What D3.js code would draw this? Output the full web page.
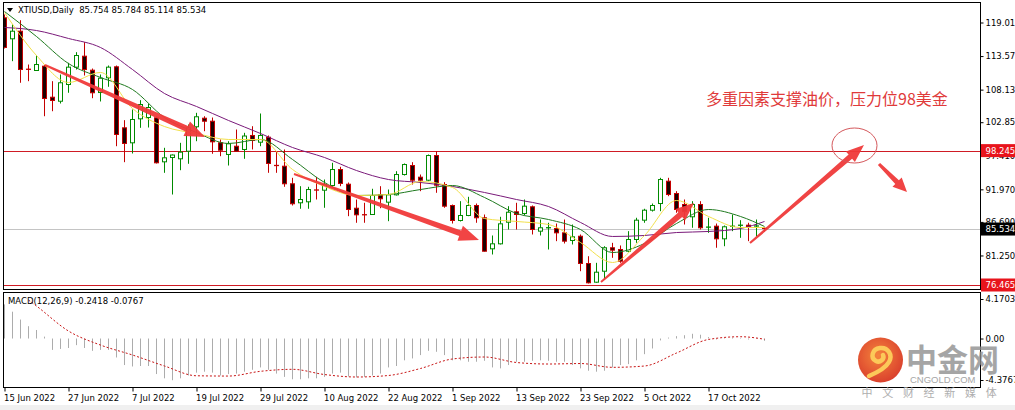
<!DOCTYPE html>
<html><head><meta charset="utf-8">
<script src="https://cdn.jsdelivr.net/npm/d3@7"></script>
<style>
body{margin:0;background:#fff;overflow:hidden}
svg{display:block}
</style>
</head><body>
<svg id="c" width="1015" height="410"></svg>
<script>
// ---------- DATA ----------
const symbol = "XTIUSD,Daily";
const lastOHLC = "85.754 85.784 85.114 85.534";
const opens = [119.77,116.37,117.60,111.55,111.23,111.93,106.90,106.25,108.96,111.77,113.55,111.28,107.66,110.05,111.83,101.94,99.51,103.40,103.61,103.56,96.43,97.13,96.92,98.15,102.11,103.50,103.01,99.51,97.62,98.96,98.43,100.70,99.61,100.42,95.95,95.72,92.87,89.79,89.95,91.94,91.83,92.59,95.18,92.80,88.91,87.89,87.89,91.08,89.89,91.08,94.37,95.83,93.94,93.45,97.45,92.75,89.35,86.92,87.73,89.35,87.36,82.33,83.14,86.64,88.33,88.05,89.14,85.19,85.70,85.62,84.92,83.68,84.37,79.95,76.92,78.70,82.50,82.22,81.94,83.84,86.97,88.59,89.67,93.29,91.29,89.51,87.52,89.51,85.79,86.00,83.95,85.95,86.11,86.16,85.95,85.754];
const highs = [120.31,118.69,119.38,112.20,113.66,112.15,109.50,110.58,112.48,114.20,115.82,111.55,110.58,112.04,112.04,103.18,104.91,106.42,105.88,103.82,98.70,97.62,99.51,102.48,104.37,103.82,103.61,100.05,99.77,101.67,101.13,102.20,104.26,100.70,98.15,98.43,93.84,92.48,92.38,94.00,93.56,96.27,95.62,93.08,90.32,89.79,92.06,92.48,91.94,94.91,96.16,96.37,94.37,97.62,98.15,93.13,89.51,90.05,90.76,89.67,87.89,84.49,87.52,89.24,89.79,90.32,89.35,87.08,86.55,86.43,87.08,86.27,84.65,81.13,80.06,82.75,83.30,82.87,85.19,87.36,88.82,89.67,93.84,93.84,91.67,90.32,90.05,90.05,87.36,86.43,86.11,87.89,86.97,86.55,87.08,85.784];
const lows = [114.80,112.74,109.24,109.50,111.15,103.82,104.63,105.88,107.62,111.39,110.42,106.74,106.21,108.59,98.96,96.37,97.78,101.94,101.99,96.16,94.65,91.13,95.07,96.11,99.77,101.39,97.73,97.34,95.83,98.10,96.92,98.43,98.96,94.65,94.65,92.38,89.35,88.82,88.82,90.32,88.98,92.38,92.48,87.62,86.55,86.55,87.81,88.91,86.81,90.97,94.21,92.75,91.67,93.29,91.41,88.98,86.43,86.76,87.62,86.55,81.89,81.41,83.03,85.46,85.46,87.73,84.65,84.49,82.22,83.57,83.19,83.03,78.70,76.71,76.82,77.36,80.87,80.06,81.78,83.30,86.55,88.37,88.43,90.86,88.17,86.27,85.74,85.46,84.92,82.50,82.75,85.19,84.11,83.57,84.33,85.114];
const closes = [114.96,117.60,111.39,111.31,112.20,106.69,106.37,109.24,111.77,113.66,111.39,107.62,109.98,111.77,100.86,99.40,103.29,105.72,105.23,96.27,97.08,97.53,97.99,101.94,103.73,103.01,99.67,98.31,99.35,98.15,100.61,99.89,100.70,96.16,95.72,92.87,89.63,90.32,91.94,91.78,92.75,95.18,92.92,88.70,87.84,87.81,90.97,90.44,91.08,94.37,95.99,93.45,93.45,97.45,92.64,89.24,86.92,87.73,89.35,87.36,81.94,83.14,86.38,88.26,87.89,89.24,85.46,85.74,85.79,84.92,83.57,84.28,79.95,76.82,78.54,82.50,82.11,80.32,83.84,86.97,88.59,89.35,93.56,91.13,88.70,88.37,89.51,85.74,85.90,83.95,85.90,86.03,86.19,85.90,86.11,85.534];

// moving averages read at these bar indices
const maBars = [0,4,8,12,16,20,24,28,32,36,40,44,48,52,56,60,64,68,72,76,80,84,88,92,95];
const maFast = [120.63,113.66,109.29,110.91,105.07,102.15,101.02,100.05,100.05,95.19,92.43,90.97,91.13,93.24,92.27,87.24,86.76,86.27,83.35,80.11,84.49,90.16,87.57,85.78,85.78];
const maMid  = [120.79,116.74,112.36,110.10,108.15,103.61,101.18,99.40,100.05,96.81,93.08,90.97,91.13,91.94,92.59,90.65,88.05,87.08,85.46,81.73,83.19,86.43,88.70,87.57,85.95];
const maSlow = [118.20,117.71,116.42,114.96,111.39,107.50,105.40,103.13,101.02,98.75,97.13,95.02,93.56,93.08,92.43,91.46,90.32,89.19,86.60,84.33,84.49,84.97,85.14,85.62,86.76];

// MACD histogram (main) per bar
const macdMain = [3.6,2.83,2.0,1.3,0.9,0.2,-1.2,-1.1,-1.0,-0.7,-1.0,-1.3,-1.2,-1.2,-2.0,-2.8,-2.95,-2.9,-2.9,-3.75,-4.2,-4.4,-4.2,-3.9,-3.6,-3.5,-3.6,-3.9,-3.75,-3.7,-3.5,-3.3,-3.05,-3.3,-3.7,-4.05,-4.3,-4.3,-4.2,-4.2,-4.05,-3.7,-3.6,-4.0,-4.1,-4.05,-3.9,-3.7,-3.05,-2.9,-2.3,-2.1,-1.75,-1.3,-1.4,-1.75,-2.3,-2.3,-2.45,-2.45,-2.35,-3.05,-3.15,-2.8,-2.45,-2.45,-2.35,-2.3,-2.35,-2.45,-2.45,-2.8,-3.15,-3.4,-3.5,-3.4,-3.05,-2.8,-2.7,-2.3,-1.65,-1.05,-0.2,0.1,0.25,0.35,0.5,0.4,0.15,-0.1,0.05,0.1,0.05,-0.1,-0.05,-0.2418];
// MACD signal read at these bar indices
const sigBars = [3,4,8,12,16,20,24,28,32,36,40,44,48,52,56,60,64,68,72,76,80,84,88,92,95];
const sigVals = [4.06,3.43,0.79,-0.69,-1.74,-2.9,-3.93,-3.96,-3.46,-3.25,-3.8,-4.06,-3.9,-3.16,-2.16,-1.95,-2.53,-2.69,-2.64,-3.04,-2.9,-1.53,-0.1,0.19,-0.0767];

const priceTicks = [119.010,113.570,108.130,102.850,97.410,91.970,86.690,81.250];
const macdTicks = [4.1703,0,-4.3767];
const macdTickLabels = ["4.1703","0.00","-4.3767"];
const tickIdx = [0,8,16,24,32,40,48,56,64,72,80,88];
const tickLabels = ["15 Jun 2022","27 Jun 2022","7 Jul 2022","19 Jul 2022","29 Jul 2022","10 Aug 2022","22 Aug 2022","1 Sep 2022","13 Sep 2022","23 Sep 2022","5 Oct 2022","17 Oct 2022"];
const resistance = 98.245, support = 76.465, current = 85.534;
const annotation = "多重因素支撑油价，压力位98美金";

// ---------- LAYOUT ----------
const svg = d3.select('#c');
const FONT = '"DejaVu Sans", sans-serif';
const L = 3.5, R = 980.5, T = 2.5, MB = 289.5, MT = 292.5, BB = 387.5;
const x = d3.scaleLinear().domain([0, 95]).range([4.5, 764.5]);
const y = d3.scaleLinear().domain([76.465, 119.01]).range([285, 22.5]);
const my = d3.scaleLinear().domain([-4.3767, 4.1703]).range([380, 299]);

svg.append('rect').attr('width',1015).attr('height',410).attr('fill','#fff');
svg.append('rect').attr('x',0).attr('y',405).attr('width',1015).attr('height',5).attr('fill','#f0f0f0');

const defs = svg.append('defs');
defs.append('clipPath').attr('id','cm').append('rect').attr('x',L+0.5).attr('y',T+0.5).attr('width',R-L-1).attr('height',MB-T-1);
defs.append('clipPath').attr('id','cd').append('rect').attr('x',L+0.5).attr('y',MT+0.5).attr('width',R-L-1).attr('height',BB-MT-1);
const gr = defs.append('radialGradient').attr('id','lg').attr('cx','45%').attr('cy','40%').attr('r','60%');
gr.append('stop').attr('offset','0%').attr('stop-color','#f47a2c');
gr.append('stop').attr('offset','100%').attr('stop-color','#d8321c');

const main = svg.append('g').attr('clip-path','url(#cm)');
// horizontal lines
main.append('line').attr('x1',L).attr('x2',R).attr('y1',Math.round(y(current))+0.5).attr('y2',Math.round(y(current))+0.5).attr('stroke','#c4c4c4');
[resistance, support].forEach(v=>{
  main.append('line').attr('x1',L).attr('x2',R).attr('y1',Math.round(y(v))+0.5).attr('y2',Math.round(y(v))+0.5).attr('stroke','#cf1b24');
});

// candles
const idx = d3.range(closes.length);
const cg = main.append('g');
idx.forEach(i=>{
  const o=opens[i],h=highs[i],l=lows[i],c=closes[i];
  const bull = c>=o;
  const cx = x(i);
  const col = bull ? '#008a00' : '#c40000';
  cg.append('line').attr('x1',cx).attr('x2',cx).attr('y1',y(h)).attr('y2',y(l)).attr('stroke',col).attr('stroke-width',1);
  const top = y(Math.max(o,c)), bot = y(Math.min(o,c));
  if (bot-top < 1.5) {
    cg.append('line').attr('x1',cx-2.5).attr('x2',cx+2.5).attr('y1',(top+bot)/2).attr('y2',(top+bot)/2).attr('stroke',col).attr('stroke-width',1.3);
  } else {
    cg.append('rect').attr('x',cx-2).attr('y',top).attr('width',4).attr('height',bot-top)
      .attr('fill', bull ? '#ffffff' : '#1c0202').attr('stroke',col).attr('stroke-width',1);
  }
});

// moving averages
const maLine = d3.line().x((d,k)=>x(maBars[k])).y(d=>y(d)).curve(d3.curveMonotoneX);
[[maSlow,'#7a1a7a'],[maMid,'#1f7a1f'],[maFast,'#f2e04a']].forEach(([arr,col])=>{
  main.append('path').attr('d',maLine(arr)).attr('fill','none').attr('stroke',col).attr('stroke-width',1);
});

// MACD panel
const mac = svg.append('g').attr('clip-path','url(#cd)');
idx.forEach(i=>{
  mac.append('line').attr('x1',x(i)).attr('x2',x(i)).attr('y1',my(0)).attr('y2',my(macdMain[i])).attr('stroke','#acacac').attr('stroke-width',1);
});
const sigLine = d3.line().x((d,k)=>x(sigBars[k])).y(d=>my(d)).curve(d3.curveMonotoneX);
mac.append('path').attr('d',sigLine(sigVals)).attr('fill','none').attr('stroke','#c81414').attr('stroke-width',1).attr('stroke-dasharray','2,2');

// frames
const frame = svg.append('g').attr('fill','none').attr('stroke','#000').attr('stroke-width',1);
frame.append('rect').attr('x',L).attr('y',T).attr('width',R-L).attr('height',MB-T);
frame.append('rect').attr('x',L).attr('y',MT).attr('width',R-L).attr('height',BB-MT);

// price axis
const ya = svg.append('g').attr('transform',`translate(${R},0)`)
  .call(d3.axisRight(y).tickValues(priceTicks).tickSize(3).tickPadding(2).tickFormat(d3.format('.3f')));
ya.select('.domain').remove();
ya.attr('font-family',FONT).attr('font-size',8.5);
ya.selectAll('text').attr('fill','#000');

// macd axis
const ma = svg.append('g').attr('transform',`translate(${R},0)`)
  .call(d3.axisRight(my).tickValues(macdTicks).tickSize(3).tickPadding(2).tickFormat((d,i)=>macdTickLabels[i]));
ma.select('.domain').remove();
ma.attr('font-family',FONT).attr('font-size',8.5);

// time axis
const xa = svg.append('g').attr('transform',`translate(0,${BB})`)
  .call(d3.axisBottom(x).tickValues(tickIdx).tickSize(4).tickPadding(3).tickFormat((d,i)=>tickLabels[i]));
xa.select('.domain').remove();
xa.attr('font-family',FONT).attr('font-size',8.5);
xa.selectAll('text').attr('text-anchor','start').attr('x',-1);

// price label boxes
function priceBox(v, bg){
  const yy = y(v);
  svg.append('rect').attr('x',R+0.5).attr('y',yy-6.5).attr('width',40).attr('height',13).attr('fill',bg);
  svg.append('text').attr('x',R+5).attr('y',yy+3.3).attr('font-family',FONT).attr('font-size',8.5).attr('fill','#fff').text(d3.format('.3f')(v));
}
priceBox(resistance,'#e8141c');
priceBox(current,'#000');
priceBox(support,'#e8141c');

// header
svg.append('path').attr('d','M7,8 L13,8 L10,12 Z').attr('fill','#000');
svg.append('text').attr('x',18).attr('y',13).attr('font-family',FONT).attr('font-size',8.5).attr('fill','#000')
  .attr('xml:space','preserve').text(symbol+'  '+lastOHLC);
svg.append('text').attr('x',8).attr('y',304).attr('font-family',FONT).attr('font-size',8.5).attr('fill','#000')
  .text('MACD(12,26,9) '+macdMain[macdMain.length-1].toFixed(4)+' '+sigVals[sigVals.length-1].toFixed(4));

// annotations
function arrow(x0,y0,x1,y1,w0,w1,hw,hl){
  const dx=x1-x0, dy=y1-y0, len=Math.hypot(dx,dy), ux=dx/len, uy=dy/len, nx=-uy, ny=ux;
  const bx=x1-ux*hl, by=y1-uy*hl;
  const p=[[x0+nx*w0/2,y0+ny*w0/2],[bx+nx*w1/2,by+ny*w1/2],[bx+nx*hw/2,by+ny*hw/2],[x1,y1],
           [bx-nx*hw/2,by-ny*hw/2],[bx-nx*w1/2,by-ny*w1/2],[x0-nx*w0/2,y0-ny*w0/2]];
  return 'M'+p.map(q=>q[0].toFixed(1)+','+q[1].toFixed(1)).join('L')+'Z';
}
const ag = svg.append('g').attr('fill','#f03a3a').attr('opacity',0.95);
ag.append('path').attr('d',arrow(45,65,205,137,2,6,16,20));
ag.append('path').attr('d',arrow(294,174,479,240,2,6,16,20));
ag.append('path').attr('d',arrow(601,282,694,203,2,6,15,18));
ag.append('path').attr('d',arrow(750,243,864,145,2,5.5,14,18));
ag.append('path').attr('d',arrow(879,164,907,192,3,5,13,14));
svg.append('ellipse').attr('cx',854.5).attr('cy',145.5).attr('rx',22.5).attr('ry',17.5).attr('fill','none').attr('stroke','#d4585c').attr('stroke-width',1);
svg.append('text').attr('x',706).attr('y',105).attr('font-family','"Noto Sans CJK SC", sans-serif').attr('font-size',16).attr('fill','#e03a3a').text(annotation);

// watermark logo
const lg = svg.append('g').attr('opacity',0.92);
lg.append('circle').attr('cx',880.5).attr('cy',360).attr('r',22.5).attr('fill','url(#lg)');
lg.append('path').attr('d','M869,376 C876,373 885,369 889,362 C893,355 888,347 880,348 C872,349 870,358 876,361 C880,363 885,359 883,355')
  .attr('fill','none').attr('stroke','#fcc54c').attr('stroke-width',4.5).attr('stroke-linecap','round');
lg.append('text').attr('x',906).attr('y',371).attr('font-family','"Noto Sans CJK SC", sans-serif').attr('font-weight','bold').attr('font-size',31).attr('fill','#8e8e8e').attr('opacity',0.85).text('中金网');
lg.append('text').attr('x',910).attr('y',383).attr('font-family','"Liberation Sans", sans-serif').attr('font-size',9.5).attr('fill','#a0a0a0').text('CNGOLD.COM');
'中文财经新媒体'.split('').forEach((ch,k)=>{
  lg.append('text').attr('x',867+20.7*k).attr('y',397).attr('text-anchor','middle').attr('font-family','"Noto Sans CJK SC", sans-serif').attr('font-size',11).attr('fill','#a8a8a8').text(ch);
});
</script>
</body></html>
